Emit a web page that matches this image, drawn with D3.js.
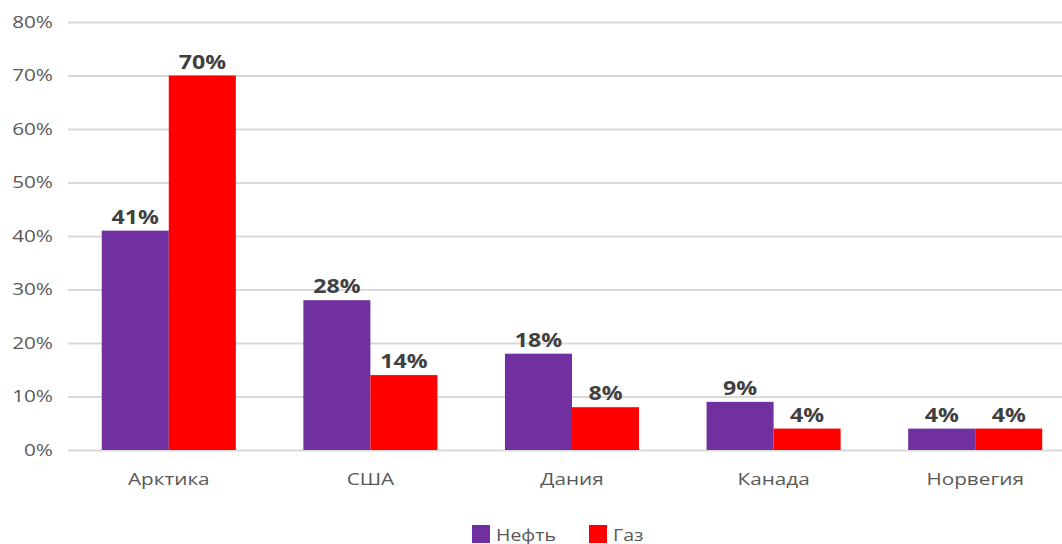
<!DOCTYPE html>
<html>
<head>
<meta charset="utf-8">
<script src="https://cdn.jsdelivr.net/npm/d3@7"></script>
<style>
  body { margin: 0; background: #fff; }
  text { font-family: "Open Sans", sans-serif; }
</style>
</head>
<body>
<main></main>
<script>
const categories = ["Арктика", "США", "Дания", "Канада", "Норвегия"]
const oil = [41, 28, 18, 9, 4]
const gas = [70, 14, 8, 4, 4]
const seriesNames = ["Нефть", "Газ"]
const seriesColors = ["#7030a0", "#ff0000"]
const yTicks = [0, 10, 20, 30, 40, 50, 60, 70, 80]

const svgWidth = 1062
const svgHeight = 544

const plotLeft = 68
const plotRight = 1076
const plotTop = 22
const plotBottom = 450

// the reference text is a bit wider than Open Sans, so stretch it sideways
const stretchX = 1.22

function stretch(sel) {
    sel.each(function () {
        let t = d3.select(this)
        let x = +t.attr("x") || 0
        let y = +t.attr("y") || 0
        t.attr("x", 0).attr("y", 0)
            .attr("transform", `translate(${x}, ${y}) scale(${stretchX}, 1)`)
    })
}

let svg = d3.select("main")
    .append("svg")
    .attr("width", svgWidth)
    .attr("height", svgHeight)
    .style("display", "block")

/* Scales */

let yScale = d3.scaleLinear()
    .domain([0, 80])
    .range([plotBottom, plotTop])

let xScale = d3.scaleBand()
    .domain(categories)
    .range([plotLeft, plotRight])
    .paddingInner(0.335)
    .paddingOuter(0.1675)

let subScale = d3.scaleBand()
    .domain(seriesNames)
    .range([0, xScale.bandwidth()])

/* Grid + y axis */

let leftAxis = d3.axisLeft(yScale)
    .tickValues(yTicks)
    .tickSize(-(svgWidth - plotLeft))
    .tickFormat(d => d + "%")

let yAxis = svg.append("g")
    .attr("transform", `translate(${plotLeft}, 0)`)
    .call(leftAxis)

yAxis.select(".domain").remove()

yAxis.selectAll("line")
    .style("stroke", "#d9d9d9")
    .style("stroke-width", 2)

yAxis.selectAll("text")
    .attr("x", -15)
    .attr("fill", "#595959")
    .style("font-size", "17px")
    .call(stretch)

/* Bars */

let rows = categories.map((c, i) => ({ cat: c, values: [oil[i], gas[i]] }))

let groups = svg.selectAll("g.group")
    .data(rows)
    .enter()
    .append("g")
    .attr("class", "group")
    .attr("transform", d => `translate(${xScale(d.cat)}, 0)`)

groups.selectAll("rect")
    .data(d => d.values.map((v, j) => ({ name: seriesNames[j], value: v, color: seriesColors[j] })))
    .enter()
    .append("rect")
    .attr("x", d => subScale(d.name))
    .attr("y", d => yScale(d.value))
    .attr("width", subScale.bandwidth())
    .attr("height", d => plotBottom - yScale(d.value))
    .attr("fill", d => d.color)

groups.selectAll("text.val")
    .data(d => d.values.map((v, j) => ({ name: seriesNames[j], value: v })))
    .enter()
    .append("text")
    .attr("class", "val")
    .attr("x", d => subScale(d.name) + subScale.bandwidth() / 2)
    .attr("y", d => yScale(d.value) - 7)
    .attr("text-anchor", "middle")
    .attr("fill", "#404040")
    .style("font-size", "19px")
    .style("font-weight", "bold")
    .text(d => d.value + "%")
    .call(stretch)

/* x axis labels */

let bottomAxis = d3.axisBottom(xScale)
    .tickSize(0)
    .tickPadding(23)

let xAxis = svg.append("g")
    .attr("transform", `translate(0, ${plotBottom})`)
    .call(bottomAxis)

xAxis.select(".domain").remove()

xAxis.selectAll("text")
    .attr("fill", "#595959")
    .style("font-size", "17px")
    .call(stretch)

/* Legend */

let legendX = [472, 589]

let legend = svg.selectAll("g.legend")
    .data(seriesNames)
    .enter()
    .append("g")
    .attr("class", "legend")
    .attr("transform", (d, i) => `translate(${legendX[i]}, 525)`)

legend.append("rect")
    .attr("width", 18)
    .attr("height", 18)
    .attr("fill", (d, i) => seriesColors[i])

legend.append("text")
    .attr("x", 24)
    .attr("y", 16)
    .attr("fill", "#595959")
    .style("font-size", "16px")
    .text(d => d)
    .call(stretch)
</script>
</body>
</html>
